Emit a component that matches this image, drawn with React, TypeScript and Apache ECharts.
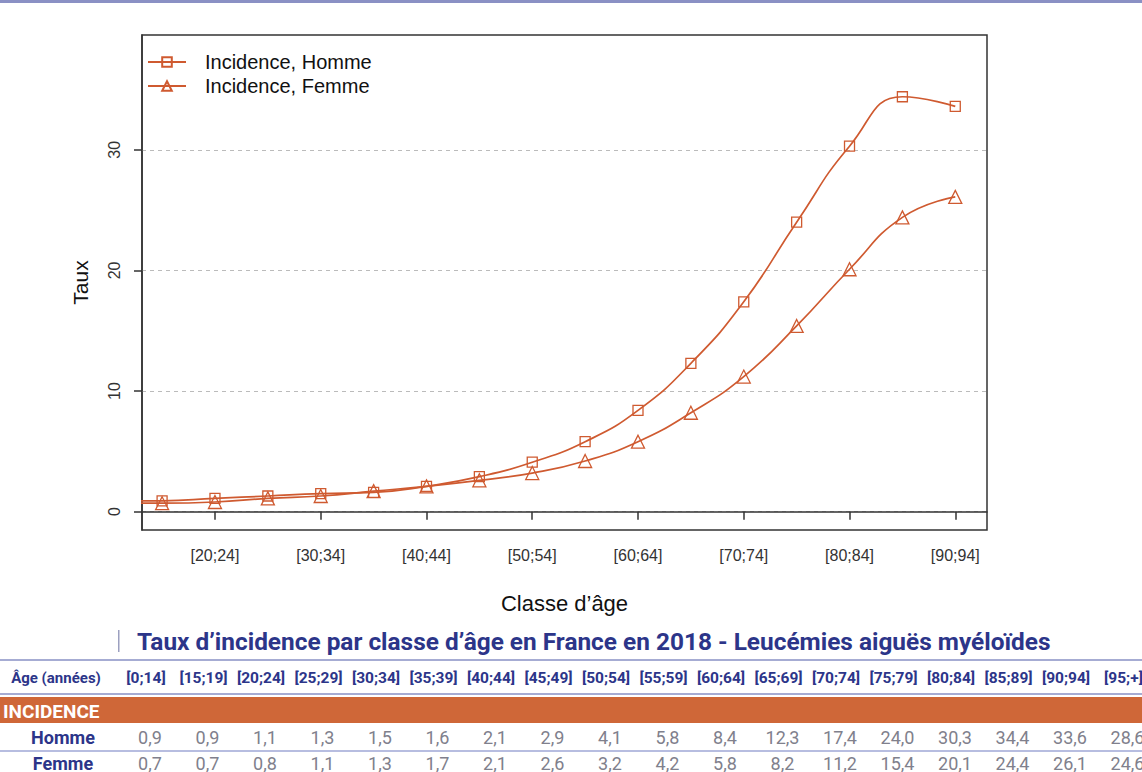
import React, { useEffect, useRef } from 'react';
import * as echarts from 'echarts';

const ageClasses = ['[0;14]', '[15;19]', '[20;24]', '[25;29]', '[30;34]', '[35;39]', '[40;44]', '[45;49]', '[50;54]', '[55;59]', '[60;64]', '[65;69]', '[70;74]', '[75;79]', '[80;84]', '[85;89]', '[90;94]', '[95;+]'];
const hommeValues = [0.9, 0.9, 1.1, 1.3, 1.5, 1.6, 2.1, 2.9, 4.1, 5.8, 8.4, 12.3, 17.4, 24.0, 30.3, 34.4, 33.6, 28.6];
const femmeValues = [0.7, 0.7, 0.8, 1.1, 1.3, 1.7, 2.1, 2.6, 3.2, 4.2, 5.8, 8.2, 11.2, 15.4, 20.1, 24.4, 26.1, 24.6];
const plottedCount = 17; // the graph stops at [90;94]
const yTickValues = [0, 10, 20, 30];
const xTickIndices = [2, 4, 6, 8, 10, 12, 14, 16];
const seriesNames = ['Incidence, Homme', 'Incidence, Femme'];
const tableTitle = 'Taux d’incidence par classe d’âge en France en 2018 - Leucémies aiguës myéloïdes';
const rowHeader = 'Âge (années)';
const sectionLabel = 'INCIDENCE';
const rowLabels = ['Homme', 'Femme'];

const LINE = '#CF5A30';
const BLUE = '#2C3589';
const GREY = '#80808C';
const RULE = '#A6ACD3';
const ORANGE = '#CF6738';
const CHART_FONT = 'Liberation Sans, Arial, sans-serif';
const TABLE_FONT = 'Roboto, sans-serif';

const fmt = (v: number) => v.toFixed(1).replace('.', ',');

function buildTableGraphics() {
  const els: any[] = [];
  const colX0 = 146;
  const colStep = 57.5;
  // top decorative rule
  els.push({ type: 'rect', shape: { x: 0, y: 0, width: 1142, height: 3 }, style: { fill: '#8A90C4' } });
  // title
  els.push({ type: 'rect', shape: { x: 118, y: 630, width: 1.5, height: 22 }, style: { fill: '#9CA0C0' } });
  els.push({
    type: 'text', x: 137, y: 641,
    style: { text: tableTitle, fill: BLUE, fontFamily: TABLE_FONT, fontWeight: 'bold', fontSize: 24.4, align: 'left', verticalAlign: 'middle' },
  });
  // rules
  els.push({ type: 'rect', shape: { x: 0, y: 659, width: 1142, height: 2 }, style: { fill: RULE } });
  els.push({ type: 'rect', shape: { x: 0, y: 693, width: 1142, height: 2 }, style: { fill: RULE } });
  els.push({ type: 'rect', shape: { x: 0, y: 697, width: 1142, height: 26 }, style: { fill: ORANGE } });
  els.push({ type: 'rect', shape: { x: 0, y: 750, width: 1142, height: 2 }, style: { fill: '#B7BDE0' } });
  // header row
  els.push({
    type: 'text', x: 56, y: 678,
    style: { text: rowHeader, fill: BLUE, fontFamily: TABLE_FONT, fontWeight: 'bold', fontSize: 15, align: 'center', verticalAlign: 'middle' },
  });
  ageClasses.forEach((c, i) => {
    els.push({
      type: 'text', x: colX0 + colStep * i, y: 678,
      style: { text: c, fill: BLUE, fontFamily: TABLE_FONT, fontWeight: 'bold', fontSize: 15.5, align: 'center', verticalAlign: 'middle' },
    });
  });
  els.push({
    type: 'text', x: 3, y: 711,
    style: { text: sectionLabel, fill: '#ffffff', fontFamily: TABLE_FONT, fontWeight: 'bold', fontSize: 19, align: 'left', verticalAlign: 'middle' },
  });
  const rows = [hommeValues, femmeValues];
  const rowY = [737, 763];
  rows.forEach((vals, r) => {
    els.push({
      type: 'text', x: 63, y: rowY[r],
      style: { text: rowLabels[r], fill: BLUE, fontFamily: TABLE_FONT, fontWeight: 'bold', fontSize: 18, align: 'center', verticalAlign: 'middle' },
    });
    vals.forEach((v, i) => {
      els.push({
        type: 'text', x: colX0 + colStep * i + 4, y: rowY[r],
        style: { text: fmt(v), fill: GREY, fontFamily: TABLE_FONT, fontSize: 18, align: 'center', verticalAlign: 'middle' },
      });
    });
  });
  return els;
}

export default function App() {
  const ref = useRef<HTMLDivElement>(null);
  useEffect(() => {
    document.body.style.margin = '0';
    if (!ref.current) return;
    const chart = echarts.init(ref.current, undefined, { renderer: 'svg' });
    const option: any = {
      animation: false,
      backgroundColor: '#ffffff',
      grid: { left: 142, right: 155, top: 35, bottom: 242, show: true, borderColor: '#333', borderWidth: 1.5, backgroundColor: 'transparent' },
      legend: {
        data: seriesNames,
        orient: 'vertical',
        left: 147,
        top: 52,
        padding: 0,
        itemWidth: 38,
        itemHeight: 12,
        itemGap: 4,
        textStyle: { fontSize: 20, color: '#111', fontFamily: CHART_FONT, padding: [0, 0, 0, 14] },
      },
      xAxis: {
        type: 'value',
        min: 0.62,
        max: 16.6,
        splitNumber: 8,
        name: 'Classe d’âge',
        nameLocation: 'middle',
        nameGap: 62,
        nameTextStyle: { fontSize: 22, color: '#111', fontFamily: CHART_FONT },
        axisLine: { show: true, lineStyle: { color: '#333', width: 1.5 } },
        axisTick: { show: true, customValues: xTickIndices, length: 8, lineStyle: { color: '#333', width: 1.5 } },
        axisLabel: {
          customValues: xTickIndices,
          formatter: (v: number) => ageClasses[Math.round(v)] ?? '',
          fontSize: 16, color: '#333', fontFamily: CHART_FONT, margin: 17,
        },
        splitLine: { show: false },
      },
      yAxis: {
        type: 'value',
        min: -1.52,
        max: 39.52,
        splitNumber: 4,
        name: 'Taux',
        nameLocation: 'middle',
        nameGap: 51,
        nameRotate: 90,
        nameTextStyle: { fontSize: 21, color: '#111', fontFamily: CHART_FONT },
        axisLine: { show: true, lineStyle: { color: '#333', width: 1.5 } },
        axisTick: { show: true, customValues: yTickValues, length: 8, lineStyle: { color: '#333', width: 1.5 } },
        axisLabel: {
          customValues: yTickValues,
          rotate: 90,
          fontSize: 16, color: '#333', fontFamily: CHART_FONT, margin: 20,
        },
        splitLine: { show: true, lineStyle: { color: '#BBBBBB', type: [4, 4], width: 1 } },
      },
      series: [
        {
          name: seriesNames[0],
          type: 'line',
          smooth: 0.5,
          data: hommeValues.slice(0, plottedCount).map((v, i) => [i, v]),
          symbol: 'rect',
          symbolSize: 10,
          showAllSymbol: true,
          itemStyle: { color: 'transparent', borderColor: LINE, borderWidth: 1.3 },
          lineStyle: { color: LINE, width: 1.7 },
          emphasis: { disabled: true },
        },
        {
          name: seriesNames[1],
          type: 'line',
          smooth: 0.5,
          data: femmeValues.slice(0, plottedCount).map((v, i) => [i, v]),
          symbol: 'triangle',
          symbolSize: 13,
          showAllSymbol: true,
          itemStyle: { color: 'transparent', borderColor: LINE, borderWidth: 1.3 },
          lineStyle: { color: LINE, width: 1.7 },
          emphasis: { disabled: true },
        },
      ],
      graphic: buildTableGraphics(),
    };
    chart.setOption(option);
    return () => chart.dispose();
  }, []);
  return <div ref={ref} style={{ width: 1142, height: 772 }} />;
}
